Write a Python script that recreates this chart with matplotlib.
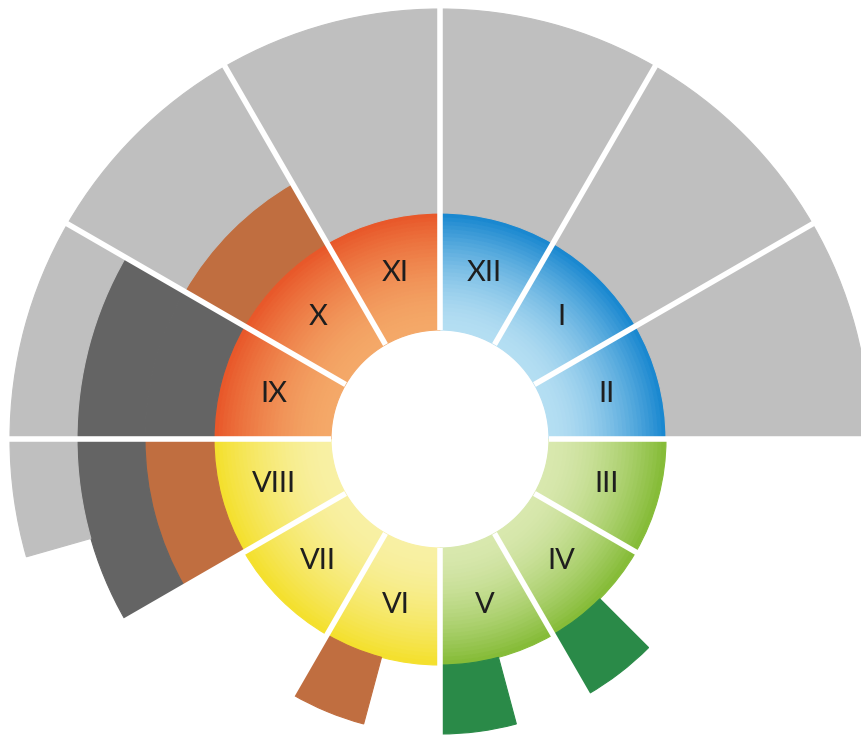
import matplotlib.pyplot as plt
import matplotlib.colors as mcolors
import numpy as np

# sectors, clockwise from 12 o'clock
labels = ['XII', 'I', 'II', 'III', 'IV', 'V', 'VI', 'VII', 'VIII', 'IX', 'X', 'XI']
ring_group = ['blue', 'blue', 'blue', 'green', 'green', 'green',
              'yellow', 'yellow', 'yellow', 'orange', 'orange', 'orange']

# outer bands (inner -> outer), '' = empty, share = part of the sector that is filled
band1 = ['grey', 'grey', 'grey', '', 'green', 'green', 'brown', '', 'brown', 'dark', 'brown', 'grey']
band1_share = [1, 1, 1, 0, 0.5, 0.5, 0.5, 0, 1, 1, 1, 1]
band2 = ['grey', 'grey', 'grey', '', '', '', '', '', 'dark', 'dark', 'grey', 'grey']
band2_share = [1, 1, 1, 0, 0, 0, 0, 0, 1, 1, 1, 1]
band3 = ['grey', 'grey', 'grey', '', '', '', '', '', 'grey', 'grey', 'grey', 'grey']
band3_share = [1, 1, 1, 0, 0, 0, 0, 0, 0.53, 1, 1, 1]

band_cols = {'grey': '#bfbfbf', 'dark': '#646464', 'brown': '#c06e40', 'green': '#2a8a48'}
# ring gradient: (inner colour, outer colour)
ring_cols = {'blue': ('#b4def2', '#1a88d0'),
             'green': ('#d8e8ae', '#86bc38'),
             'yellow': ('#f8f0a4', '#f4e02e'),
             'orange': ('#f4a868', '#e8582a')}

r_hole, r_ring = 109, 226
band_edges = [226, 295, 363, 430]

fig = plt.figure(figsize=(8.62, 7.35), dpi=100)
# centre at (440, 439) px, radius 440 px
ax = fig.add_axes([0, (735 - 439 - 440) / 735, 880 / 862, 880 / 735], projection='polar')
ax.set_theta_zero_location('N')
ax.set_theta_direction(-1)
ax.set_ylim(0, 440)
ax.axis('off')

sw = np.deg2rad(30)
starts = np.arange(12) * sw

# gradient ring
n = 30
steps = np.linspace(r_hole, r_ring, n + 1)
for i, g in enumerate(ring_group):
    c0, c1 = (np.array(mcolors.to_rgb(c)) for c in ring_cols[g])
    for j in range(n):
        t = (j / (n - 1)) ** 1.6
        c = c0 + (c1 - c0) * t
        ax.bar(starts[i], steps[j + 1] - steps[j], width=sw, bottom=steps[j],
               align='edge', color=c, edgecolor=c, linewidth=0.8)

# outer bands
for k, (band, share) in enumerate([(band1, band1_share), (band2, band2_share), (band3, band3_share)]):
    for i in range(12):
        if not band[i]:
            continue
        w = sw * share[i]
        c = band_cols[band[i]]
        ax.bar(starts[i] + sw - w, band_edges[k + 1] - band_edges[k], width=w,
               bottom=band_edges[k], align='edge', color=c, edgecolor=c, linewidth=0.8)

# white separators
for th in starts:
    ax.plot([th, th], [r_hole, 440], color='white', lw=4, solid_capstyle='butt')

# labels
for i, lab in enumerate(labels):
    ax.text(starts[i] + sw / 2, 172, lab, ha='center', va='center',
            fontsize=21, color='#1e1e1e', family=['Lato', 'DejaVu Sans'])

fig.savefig('out.png', dpi=100)
